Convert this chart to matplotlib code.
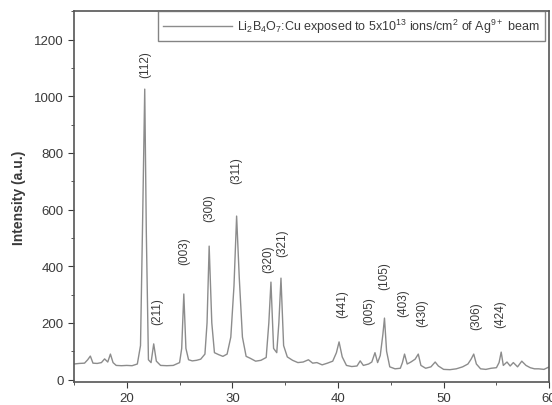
import matplotlib

matplotlib.use("Agg")
import matplotlib.pyplot as plt
from matplotlib.ticker import MultipleLocator

plt.rcParams["font.family"] = ["Liberation Sans", "DejaVu Sans"]
plt.rcParams["mathtext.default"] = "regular"

# XRD pattern: 2-theta (deg) and intensity (a.u.)
two_theta = [
    15.0, 15.5, 16.0, 16.3, 16.55, 16.8, 17.2, 17.6, 17.9, 18.2, 18.45, 18.7, 19.0,
    19.5, 20.0, 20.5, 21.0, 21.3, 21.5, 21.7, 21.85, 22.05, 22.3, 22.55, 22.8, 23.2,
    23.8, 24.4, 25.0, 25.2, 25.4, 25.6, 25.85, 26.2, 26.6, 27.0, 27.4, 27.6, 27.8,
    28.05, 28.3, 28.7, 29.1, 29.5, 29.85, 30.15, 30.4, 30.65, 30.95, 31.3, 31.7,
    32.2, 32.7, 33.2, 33.45, 33.65, 33.9, 34.2, 34.4, 34.6, 34.85, 35.2, 35.7,
    36.2, 36.7, 37.2, 37.6, 38.0, 38.5, 39.0, 39.5, 39.85, 40.1, 40.4, 40.8,
    41.3, 41.8, 42.1, 42.4, 42.9, 43.2, 43.5, 43.75, 44.0, 44.25, 44.4, 44.6,
    44.9, 45.4, 45.9, 46.1, 46.3, 46.55, 46.9, 47.3, 47.6, 47.85, 48.3, 48.8,
    49.2, 49.5, 50.0, 50.6, 51.2, 51.8, 52.3, 52.6, 52.85, 53.1, 53.5, 54.0,
    54.5, 55.0, 55.25, 55.45, 55.65, 56.0, 56.3, 56.6, 57.0, 57.4, 57.8, 58.2,
    58.6, 59.0, 59.5, 60.0,
]
intensity = [
    55, 57, 58, 70, 83, 58, 57, 60, 73, 62, 90, 60, 50,
    49, 50, 49, 55, 120, 560, 1025, 520, 70, 60, 126, 65, 50,
    49, 50, 60, 110, 302, 110, 70, 66, 68, 72, 90, 200, 471,
    200, 95, 88, 82, 90, 150, 330, 577, 360, 150, 82, 75,
    65, 68, 78, 200, 344, 110, 95, 200, 358, 120, 80, 68,
    60, 62, 70, 58, 60, 52, 58, 65, 95, 133, 80, 50,
    46, 48, 66, 50, 55, 62, 95, 60, 85, 160, 217, 100,
    45, 38, 40, 60, 90, 55, 62, 72, 90, 50, 40, 45,
    62, 48, 36, 35, 38, 45, 55, 72, 90, 55, 38, 36,
    40, 42, 60, 97, 50, 62, 48, 60, 45, 65, 50, 42,
    38, 38, 36, 45,
]

# Miller indices with label anchor (2-theta, bottom of rotated text)
hkl_labels = ["(112)", "(211)", "(003)", "(300)", "(311)", "(320)", "(321)",
              "(441)", "(005)", "(105)", "(403)", "(430)", "(306)", "(424)"]
hkl_x = [21.75, 22.85, 25.45, 27.8, 30.4, 33.4, 34.7,
         40.4, 43.0, 44.4, 46.2, 48.0, 53.1, 55.4]
hkl_y = [1067, 196, 408, 559, 693, 379, 436,
         220, 196, 320, 225, 190, 179, 186]

legend_label = ("Li$_2$B$_4$O$_7$:Cu exposed to 5x10$^{13}$ ions/cm$^2$ "
                "of Ag$^{9+}$ beam")

LINE = "#8c8c8c"
INK = "#3a3a3a"

fig = plt.figure(figsize=(5.52, 4.06), dpi=100)
ax = fig.add_axes([0.134, 0.057, 0.861, 0.913])

ax.plot(two_theta, intensity, color=LINE, linewidth=1.0, label=legend_label)

for lab, x, y in zip(hkl_labels, hkl_x, hkl_y):
    ax.text(x, y, lab, rotation=90, ha="center", va="bottom",
            fontsize=8.5, color=INK)

ax.set_xlim(15, 60)
ax.set_ylim(-8, 1300)
ax.xaxis.set_major_locator(MultipleLocator(10))
ax.xaxis.set_minor_locator(MultipleLocator(5))
ax.yaxis.set_major_locator(MultipleLocator(200))
ax.yaxis.set_minor_locator(MultipleLocator(100))
ax.tick_params(which="both", direction="out", colors=INK, labelsize=9.5,
               top=False, right=False)
ax.tick_params(which="major", length=4)
ax.tick_params(which="minor", length=2.5)
for side in ax.spines.values():
    side.set_color("#555555")
    side.set_linewidth(1.2)

ax.set_ylabel("Intensity (a.u.)", fontsize=10, fontweight="bold", color=INK,
              labelpad=6)

leg = ax.legend(loc="upper right", bbox_to_anchor=(0.992, 1.0), borderaxespad=0,
                fancybox=False, fontsize=9, handlelength=5.5,
                handletextpad=0.4, borderpad=0.45, labelcolor=INK)
leg.get_frame().set_edgecolor("#666666")
leg.get_frame().set_linewidth(1.0)

fig.savefig("out.png", dpi=100)
